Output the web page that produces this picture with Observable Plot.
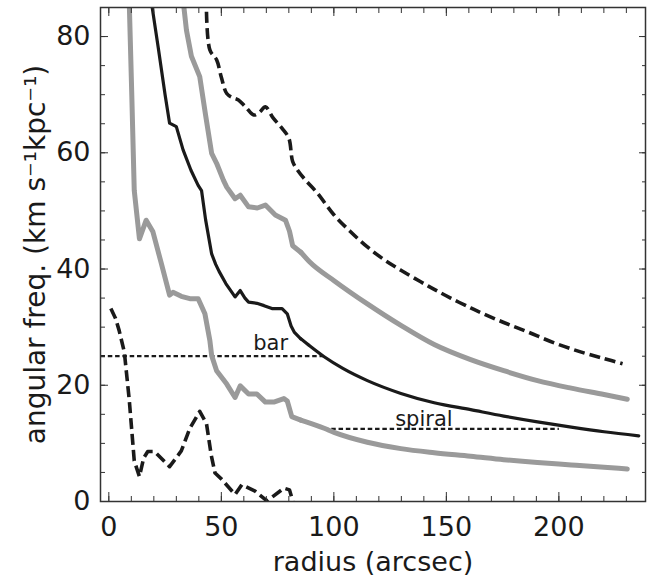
<!DOCTYPE html>
<html><head><meta charset="utf-8">
<script src="https://cdn.jsdelivr.net/npm/d3@7"></script>
<script src="https://cdn.jsdelivr.net/npm/@observablehq/plot@0.6"></script>
<style>body{margin:0;background:#fff} #chart{width:647px;height:585px}</style>
</head><body><div id="chart"></div>
<script>
// Omega (black solid)
const omegaR = [18.5, 22, 25, 27, 30, 33, 36.5, 39.7, 41.2, 43, 45.7, 47.5, 49, 52, 56.1, 58.4, 60.5, 62.1, 65.8, 69, 72.5, 77, 79.3, 81, 82.5, 85.3, 89.5, 95.7, 104, 114.9, 129.8, 144.6, 160.8, 175.5, 190.5, 205.5, 220.1, 235.5];
const omegaV = [87, 78, 70, 65.1, 64.5, 60.5, 57, 54.4, 53.5, 48.5, 42.6, 40.8, 39.6, 37.5, 35.2, 36.3, 35, 34.3, 34.1, 33.7, 33.2, 33.2, 32.3, 30.2, 29.1, 28.0, 26.7, 24.9, 22.9, 20.8, 18.6, 17.0, 15.8, 14.7, 13.7, 12.8, 12.0, 11.3];
// upper gray
const upperR = [32.8, 34.5, 36.7, 40.4, 43, 45.7, 47.9, 50.9, 52.4, 56.1, 58.4, 62.1, 66, 69.6, 74, 78.5, 80.3, 81.7, 85.3, 89.3, 100.1, 114.9, 129.8, 144.6, 160.8, 175.5, 190.5, 205.5, 220.1, 230.4];
const upperV = [87, 81.1, 76.6, 73.1, 66.5, 59.9, 58.2, 55.3, 54.1, 52.1, 52.7, 50.7, 50.5, 51, 49.3, 48.4, 46.5, 44, 42.9, 41.2, 38.0, 34.0, 30.3, 27.0, 24.4, 22.5, 20.8, 19.5, 18.4, 17.6];
// upper dashed
const dashUpR = [43.3, 44.9, 47.9, 50, 52.4, 55, 57.6, 61, 64.4, 67, 69.6, 73, 77, 80, 81.7, 83.9, 87.4, 92.8, 100.1, 107.2, 114.9, 122.4, 129.8, 138.6, 144.6, 151.9, 160.8, 165.3, 175.5, 186, 197.9, 210, 220.1, 228.3];
const dashUpV = [87, 77.7, 76, 73, 70.2, 69.5, 69.1, 67.8, 66.5, 67, 67.9, 66, 64.2, 62.5, 58.5, 57, 55.3, 53, 49.3, 46.5, 43.8, 41.6, 39.8, 37.8, 36.5, 35.0, 33.3, 32.5, 30.8, 29.2, 27.3, 25.7, 24.6, 23.7];
// lower gray
const lowerR = [9.0, 10.2, 11.3, 13.6, 16.6, 19.6, 23.3, 27, 28.5, 32.2, 36, 39.7, 42.7, 44.9, 45.7, 47.9, 52.4, 56.1, 58.4, 62.1, 65.8, 69.6, 73.3, 77.8, 79.3, 81.3, 85.3, 95.7, 100.1, 114.9, 129.8, 144.6, 160.8, 175.5, 190.5, 205.5, 220.1, 230.4];
const lowerV = [87, 70, 53.5, 45.2, 48.4, 46.4, 41, 35.5, 36, 35.3, 34.9, 34.9, 32.3, 27.7, 25.1, 22.5, 20.2, 17.9, 19.9, 18.5, 18.5, 17.1, 17.1, 17.7, 17.3, 14.6, 14.0, 12.6, 11.9, 10.2, 9.1, 8.4, 7.8, 7.2, 6.7, 6.3, 5.9, 5.6];
// lower dashed
const dashLowR = [0.9, 3, 4.6, 6.9, 9.1, 11.3, 13.6, 15.5, 17.3, 20.3, 27, 32.2, 36, 40.4, 43.4, 45.5, 47.2, 50.2, 56.1, 59.1, 65, 70.3, 77.8, 80.3, 82.5];
const dashLowV = [33.2, 31.5, 29.4, 25.7, 17.4, 7, 4.3, 7.5, 8.6, 8.6, 6.0, 8.7, 12.6, 15.5, 13.4, 8, 4.9, 3.8, 1.2, 2.9, 1.8, 0.1, 2.3, 2.0, -1];
// pattern speeds
const barR = [-3.7, 95.6], barV = [25, 25];
const spiralR = [95.6, 200], spiralV = [12.5, 12.5];
const annoText = ["bar", "spiral"], annoX = [71.9, 140], annoY = [26.0, 13.05];
// axes
const xMajor = [0, 50, 100, 150, 200];
const xMinor = [0,10,20,30,40,50,60,70,80,90,100,110,120,130,140,150,160,170,180,190,200,210,220,230];
const yMajor = [0, 20, 40, 60, 80];
const yMinor = [0,5,10,15,20,25,30,35,40,45,50,55,60,65,70,75,80,85];
const xTitle = "radius (arcsec)";
const yTitle = "angular freq. (km s\u207B\u00B9kpc\u207B\u00B9)";

const pts = (rs, vs) => rs.map((r, i) => ({r, v: vs[i]}));
const black = "#1a1a1a", gray = "#9a9a9a", axc = "#333";
const blank = () => "";
const SPLIT = 85; // jagged inner part drawn straight, smooth outer tail drawn as a curve

function curveMarks(rs, vs, style) {
  const all = pts(rs, vs);
  const inner = all.filter(d => d.r <= SPLIT + 0.5);
  const outer = all.filter(d => d.r >= SPLIT - 0.5);
  const o = {x: "r", y: "v", clip: true, ...style};
  const m = [];
  if (inner.length > 1) m.push(Plot.line(inner, {...o, curve: "linear"}));
  if (outer.length > 1) m.push(Plot.line(outer, {...o, curve: "monotone-x"}));
  return m;
}

const chart = Plot.plot({
  width: 647, height: 585,
  marginLeft: 100, marginRight: 2, marginTop: 7, marginBottom: 84,
  style: {fontFamily: "DejaVu Sans", fontSize: "27px", background: "#fff", color: black},
  x: {domain: [-3.7, 238.5]},
  y: {domain: [0, 85]},
  marks: [
    Plot.line(pts(barR, barV), {x: "r", y: "v", stroke: black, strokeWidth: 2.2, strokeDasharray: "4.5,2.8", strokeLinecap: "butt"}),
    Plot.line(pts(spiralR, spiralV), {x: "r", y: "v", stroke: black, strokeWidth: 2.2, strokeDasharray: "4.5,2.8", strokeLinecap: "butt"}),
    ...curveMarks(upperR, upperV, {stroke: gray, strokeWidth: 5}),
    ...curveMarks(lowerR, lowerV, {stroke: gray, strokeWidth: 5}),
    ...curveMarks(omegaR, omegaV, {stroke: black, strokeWidth: 3.2}),
    Plot.line(pts(dashUpR, dashUpV), {x: "r", y: "v", stroke: black, strokeWidth: 3.6, strokeDasharray: "11,5", strokeLinecap: "butt", curve: "catmull-rom", clip: true}),
    Plot.line(pts(dashLowR, dashLowV), {x: "r", y: "v", stroke: black, strokeWidth: 3.6, strokeDasharray: "11,5", strokeLinecap: "butt", clip: true}),
    Plot.text(annoText, {x: (d, i) => annoX[i], y: (d, i) => annoY[i], text: d => d, fontSize: 21, lineAnchor: "bottom", fill: black}),
    Plot.frame({stroke: axc, strokeWidth: 1.5}),
    Plot.axisX({anchor: "bottom", ticks: xMajor, tickSize: 0, tickPadding: 15, label: null, fontSize: 27}),
    Plot.axisX({anchor: "bottom", ticks: xMajor, tickSize: -9, tickFormat: blank, label: null, stroke: axc}),
    Plot.axisX({anchor: "bottom", ticks: xMinor, tickSize: -5, tickFormat: blank, label: null, stroke: axc}),
    Plot.axisX({anchor: "top", ticks: xMajor, tickSize: -8, tickFormat: blank, label: null, stroke: axc}),
    Plot.axisX({anchor: "top", ticks: xMinor, tickSize: -5, tickFormat: blank, label: null, stroke: axc}),
    Plot.axisY({anchor: "left", ticks: yMajor, tickSize: 0, tickPadding: 10, label: null, fontSize: 27}),
    Plot.axisY({anchor: "left", ticks: yMajor, tickSize: -8, tickFormat: blank, label: null, stroke: axc}),
    Plot.axisY({anchor: "left", ticks: yMinor, tickSize: -5, tickFormat: blank, label: null, stroke: axc}),
    Plot.axisY({anchor: "right", ticks: yMajor, tickSize: -7, tickFormat: blank, label: null, stroke: axc}),
    Plot.axisY({anchor: "right", ticks: yMinor, tickSize: -4, tickFormat: blank, label: null, stroke: axc}),
    Plot.text([xTitle], {frameAnchor: "bottom", dy: 69, lineAnchor: "bottom", fontSize: 27, fill: black}),
    Plot.text([yTitle], {frameAnchor: "left", rotate: -90, dx: -56, textAnchor: "middle", lineAnchor: "bottom", fontSize: 28, fill: black})
  ]
});
document.getElementById("chart").append(chart);
</script></body></html>
